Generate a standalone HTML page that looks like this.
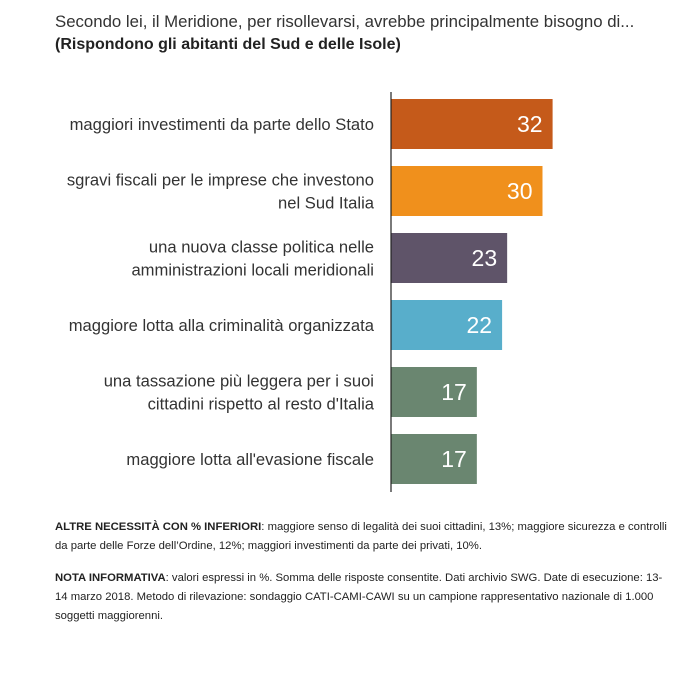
<!DOCTYPE html>
<html><head><meta charset="utf-8"><style>
body{margin:0;background:#fff;width:700px;height:700px;overflow:hidden;font-family:"Liberation Sans",sans-serif;}
.t{position:absolute;left:55px;color:#333;font-size:16.8px;white-space:nowrap;}
.note{position:absolute;left:55px;width:615px;font-size:11.3px;line-height:19px;color:#222;}
</style></head><body>
<div class="t" style="top:12px">Secondo lei, il Meridione, per risollevarsi, avrebbe principalmente bisogno di...</div>
<div class="t" style="top:36px;font-weight:bold;color:#222;font-size:16px">(Rispondono gli abitanti del Sud e delle Isole)</div>
<svg id="chart" width="700" height="700" style="position:absolute;left:0;top:0"></svg>
<div class="note" style="top:518px"><b>ALTRE NECESSITÀ CON % INFERIORI</b>: maggiore senso di legalità dei suoi cittadini, 13%; maggiore sicurezza e controlli da parte delle Forze dell’Ordine, 12%; maggiori investimenti da parte dei privati, 10%.</div>
<div class="note" style="top:569px"><b>NOTA INFORMATIVA</b>: valori espressi in %. Somma delle risposte consentite. Dati archivio SWG. Date di esecuzione: 13-14 marzo 2018. Metodo di rilevazione: sondaggio CATI-CAMI-CAWI su un campione rappresentativo nazionale di 1.000 soggetti maggiorenni.</div>
<script>
const categories=[["maggiori investimenti da parte dello Stato"],["sgravi fiscali per le imprese che investono","nel Sud Italia"],["una nuova classe politica nelle","amministrazioni locali meridionali"],["maggiore lotta alla criminalità organizzata"],["una tassazione più leggera per i suoi","cittadini rispetto al resto d'Italia"],["maggiore lotta all'evasione fiscale"]];
const values=[32,30,23,22,17,17];
const colors=["#c55a1a","#f0901c","#5f5469","#58aecb","#6a8670","#6a8670"];
const NS="http://www.w3.org/2000/svg";
const svg=document.getElementById('chart');
const x0=391,unit=5.05,top0=99,pitch=67,bh=50;
const xs=v=>x0+v*unit;
const ys=i=>top0+i*pitch;
values.forEach((v,i)=>{
 const r=document.createElementNS(NS,'rect');
 r.setAttribute('x',x0);r.setAttribute('y',ys(i));r.setAttribute('width',xs(v)-x0);r.setAttribute('height',bh);r.setAttribute('fill',colors[i]);
 
 
 svg.appendChild(r);
 const t=document.createElementNS(NS,'text');
 t.setAttribute('x',xs(v)-10);t.setAttribute('y',ys(i)+bh/2+8);t.setAttribute('text-anchor','end');t.setAttribute('fill','#fff');t.setAttribute('font-size','23');t.setAttribute('font-family','Liberation Sans, sans-serif');
 t.textContent=v;
 
 
 svg.appendChild(t);
 const lines=categories[i];
 const lab=document.createElementNS(NS,'text');
 lab.setAttribute('text-anchor','end');lab.setAttribute('fill','#333');lab.setAttribute('font-size','16.6');lab.setAttribute('font-family','Liberation Sans, sans-serif');
 
 
 lines.forEach((s,k)=>{
  const ts=document.createElementNS(NS,'tspan');
  ts.setAttribute('x',374);
  ts.setAttribute('y',ys(i)+bh/2+6+(k-(lines.length-1)/2)*23);
  ts.textContent=s;lab.appendChild(ts);
 });
 svg.appendChild(lab);
});
const ax=document.createElementNS(NS,'line');
ax.setAttribute('x1',x0);ax.setAttribute('x2',x0);ax.setAttribute('y1',92);ax.setAttribute('y2',492);ax.setAttribute('stroke','#222');ax.setAttribute('stroke-width','1.2');


svg.appendChild(ax);
</script>
</body></html>
